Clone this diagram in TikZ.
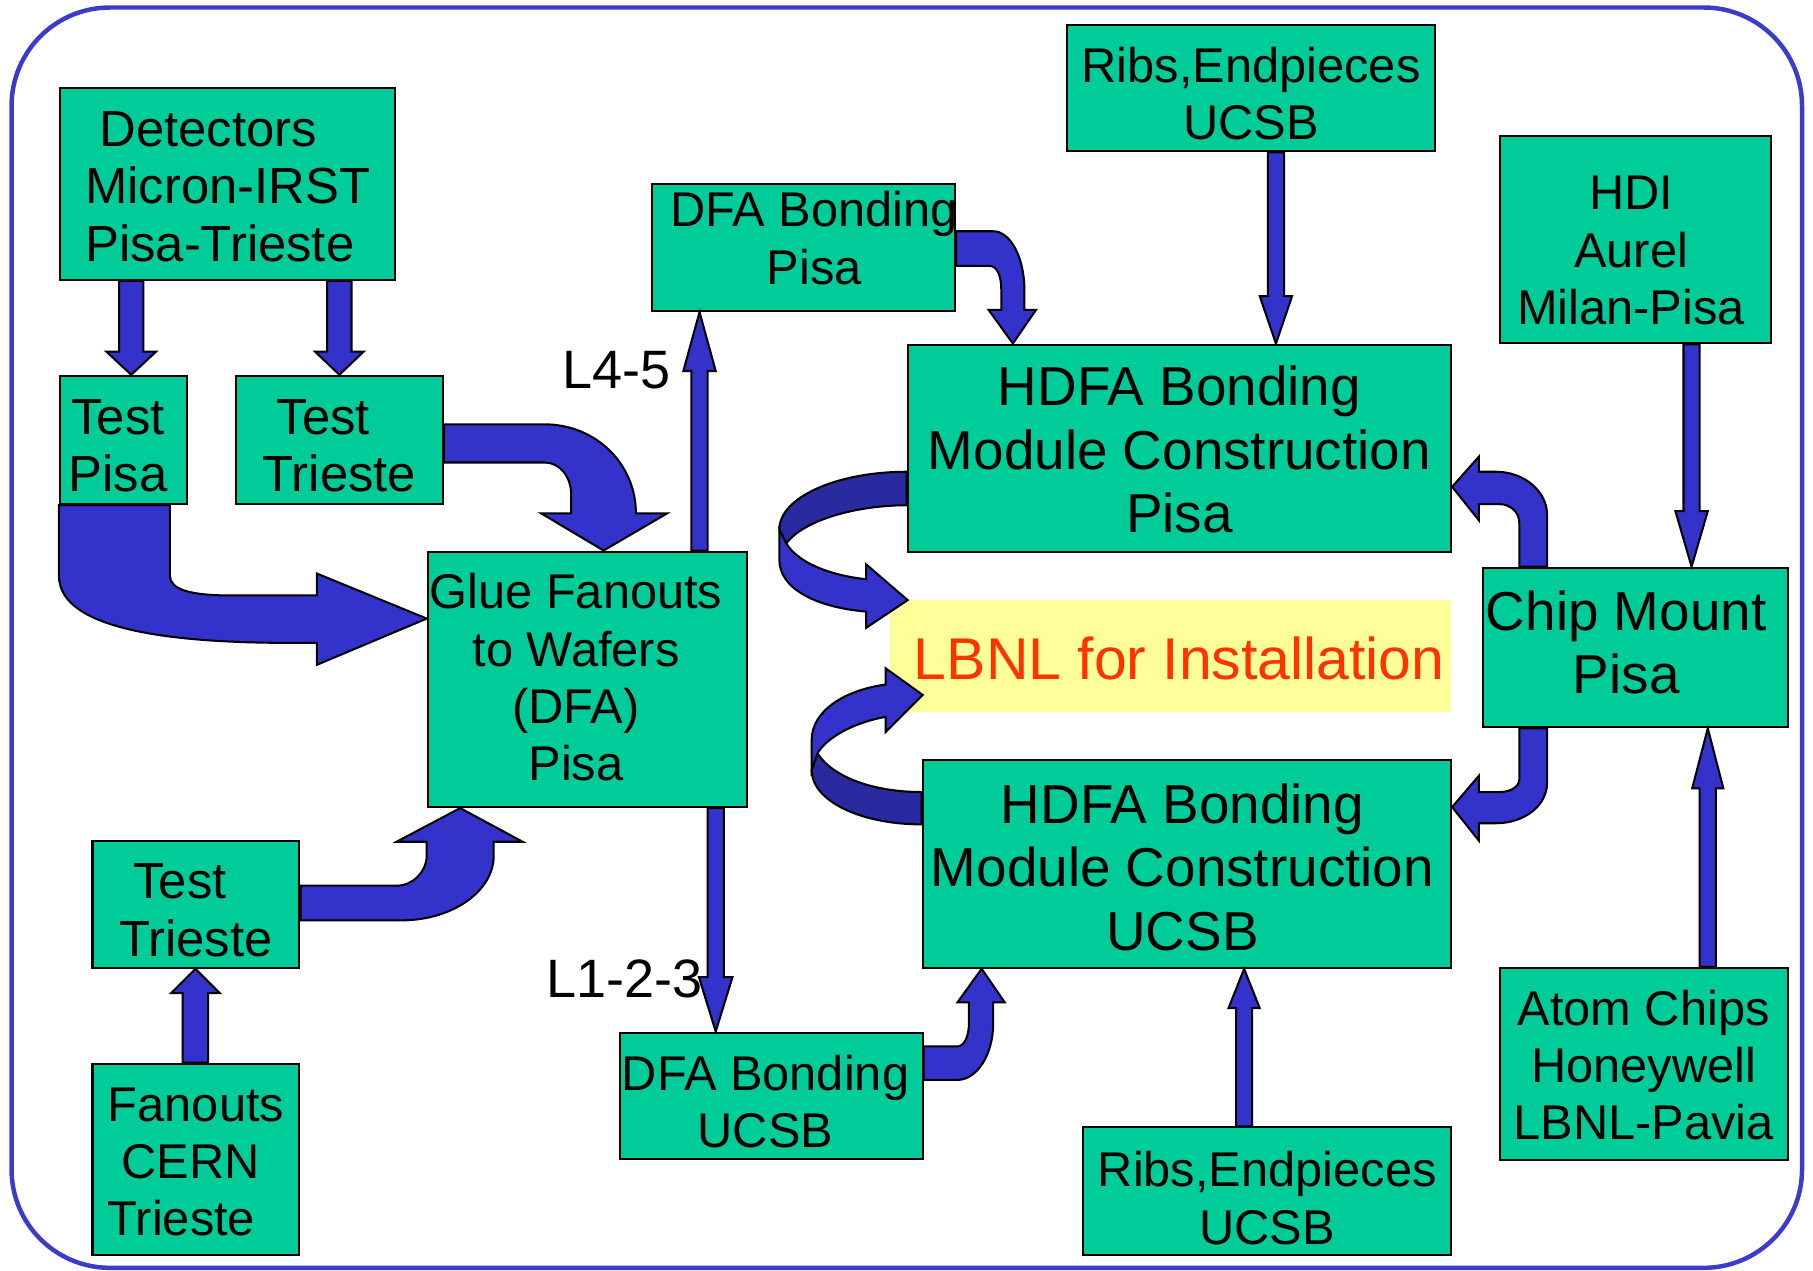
\documentclass[tikz,border=0pt]{standalone}
\usepackage{fontspec}
\setmainfont{Liberation Sans}
\usetikzlibrary{calc,positioning}
\definecolor{boxgreen}{RGB}{0,204,153}
\definecolor{arrowblue}{RGB}{51,51,204}
\definecolor{ribbonblue}{RGB}{42,42,160}
\definecolor{frameblue}{RGB}{60,60,204}
\definecolor{lbnlyellow}{RGB}{255,255,153}
\definecolor{lbnlred}{RGB}{255,51,0}
\newcommand{\boxtxt}{\fontsize{12}{14.1}\selectfont}
\newcommand{\testtxt}{\fontsize{12.5}{14.1}\selectfont}
\newcommand{\bigtxt}{\fontsize{13.5}{15.6}\selectfont}
\newcommand{\lbnltxt}{\fontsize{14.5}{15.6}\selectfont}
\newcommand{\lbltxt}{\fontsize{13.3}{15}\selectfont}
% text block of a box: [column], x nudge, y nudge, lines
\newcommand{\boxtext}[4][c]{\raisebox{#3}[\height][\depth]{\hspace*{#2}\begin{tabular}{@{}#1@{}}#4\end{tabular}\hspace*{-#2}}}
\tikzset{x=0.1mm, y=-0.1mm, % one unit per pixel of the slide, y pointing down
box/.style={draw=black, line width=0.5pt, fill=boxgreen, inner sep=0pt, font=\boxtxt}, % the green boxes
testbox/.style={box, font=\testtxt}, % detector and test boxes
bigbox/.style={box, font=\bigtxt}, % boxes with the larger text
blockarrow/.style={draw=black, line width=0.5pt, fill=arrowblue, line join=miter}, % filled block arrows
ribbonback/.style={blockarrow, fill=ribbonblue}, % back face of the curled arrows
lbl/.style={inner sep=0pt, font=\lbltxt}, % layer labels
slideframe/.style={draw=frameblue, line width=1.1pt, rounded corners=8.5mm}, % rounded frame round the slide
}
% straight block arrow: x, start, apex, half shaft, half head, head length (signed)
\newcommand{\vblockarrow}[6]{%
\filldraw[blockarrow] (#1-#4,0 |- #2) -- ($(#1-#4,0 |- #3)+(0,#6)$)
 -- ($(#1-#5,0 |- #3)+(0,#6)$) -- (#1,0 |- #3) -- ($(#1+#5,0 |- #3)+(0,#6)$)
 -- ($(#1+#4,0 |- #3)+(0,#6)$) -- (#1+#4,0 |- #2) -- cycle;}

\begin{document}
\begin{tikzpicture}
\useasboundingbox (0,0) rectangle (1568,1099);
\draw[slideframe] (10,6.5) rectangle (1558.5,1096.5);

\node[testbox, minimum width=29mm, minimum height=16.6mm] (det) at (197,159) {\boxtext[l]{0pt}{-2.1pt}{\ Detectors\\Micron-IRST\\Pisa-Trieste}};
\node[testbox, minimum width=11mm, minimum height=11.1mm] (testpisa) at (107,380.5) {\boxtext{-1.4pt}{-2.9pt}{Test\\Pisa}};
\node[testbox, minimum width=17.9mm, minimum height=11.1mm] (testtri) at (293.5,380.5) {\boxtext[l]{0pt}{-2.9pt}{\ Test\\Trieste}};
\node[box, minimum width=27.6mm, minimum height=22.1mm] (glue) at (508,587.5) {\boxtext{-2.8pt}{-1pt}{Glue Fanouts\\to Wafers\\(DFA)\\Pisa}};
\node[testbox, minimum width=17.9mm, minimum height=11mm] (testtrib) at (169.5,782) {\boxtext[l]{0pt}{-2.9pt}{\ Test\\Trieste}};
\node[box, minimum width=17.9mm, minimum height=16.5mm] (fanouts) at (169.5,1002.5) {\boxtext[l]{0pt}{-1.9pt}{Fanouts\\\ CERN\\Trieste}};
\node[box, minimum width=26.2mm, minimum height=11mm] (dfapisa) at (695,214) {\boxtext{2.6pt}{0.8pt}{DFA Bonding\\Pisa}};
\node[box, minimum width=26.2mm, minimum height=10.9mm] (dfaucsb) at (667,947.5) {\boxtext{-1.4pt}{-3pt}{DFA Bonding\\UCSB}};
\node[box, minimum width=31.8mm, minimum height=10.9mm] (ribsa) at (1082,76.5) {\boxtext{0pt}{-2.7pt}{Ribs,Endpieces\\UCSB}};
\node[bigbox, minimum width=47mm, minimum height=17.9mm] (hdfapisa) at (1020,387.5) {\boxtext{0pt}{-2.1pt}{HDFA Bonding\\Module Construction\\Pisa}};
\node[box, minimum width=23.5mm, minimum height=17.9mm] (hdi) at (1414.5,207.5) {\boxtext{-1.1pt}{-3.9pt}{HDI\\Aurel\\Milan-Pisa}};
\node[bigbox, minimum width=26.3mm, minimum height=13.8mm] (chip) at (1414.5,560) {\boxtext{-2.3pt}{-0.4pt}{Chip Mount\\Pisa}};
\node[bigbox, font=\lbnltxt, draw=none, fill=lbnlyellow, text=lbnlred, minimum width=48.5mm, minimum height=9.7mm] (lbnl) at (1012.5,567.5) {\boxtext{2.1pt}{-2.5pt}{LBNL for Installation}};
\node[bigbox, minimum width=45.7mm, minimum height=18mm] (hdfaucsb) at (1026.5,747) {\boxtext{-1.1pt}{-2.6pt}{HDFA Bonding\\Module Construction\\UCSB}};
\node[box, minimum width=31.8mm, minimum height=11mm] (ribsb) at (1096,1030) {\boxtext{0pt}{-3.2pt}{Ribs,Endpieces\\UCSB}};
\node[box, minimum width=24.9mm, minimum height=16.6mm] (atom) at (1421.5,920) {\boxtext{0pt}{-1.8pt}{Atom Chips\\Honeywell\\LBNL-Pavia}};

% straight arrows
\vblockarrow{113.5}{det.south}{testpisa.north}{10.5}{21.5}{-20}
\vblockarrow{293.5}{det.south}{testtri.north}{10.5}{21}{-20}
\vblockarrow{169}{fanouts.north}{testtrib.south}{11}{21}{21}
\vblockarrow{605}{glue.north}{dfapisa.south}{7}{14}{51}
\vblockarrow{619}{glue.south}{dfaucsb.north}{7}{14.5}{-47}
\vblockarrow{1103.5}{ribsa.south}{hdfapisa.north}{7}{14}{-41}
\vblockarrow{1463}{hdi.south}{chip.north}{7}{14}{-48}
\vblockarrow{1477}{atom.north}{chip.south}{7}{13.5}{52}
\vblockarrow{1076}{ribsb.north}{hdfaucsb.south}{7}{13.5}{34}

% bent arrows
\filldraw[blockarrow] (51,0 |- testpisa.south) -- (51,498) .. controls (51,540) and (130,556) .. (250,556) -- (274,556) -- (274,575)
 -- (glue.west |- 0,535) -- (274,496) -- (274,515) -- (200,515) .. controls (165,515) and (147,510) .. (147,498) -- (147,0 |- testpisa.south) -- cycle;
\filldraw[blockarrow] (testtri.east |- 0,367) -- (471,367) .. controls (515,367) and (550,401) .. (550,444) -- (577,444)
 -- (522,0 |- glue.north) -- (468,444) -- (494,444) -- (494,428) .. controls (494,412) and (484,400) .. (471,400) -- (testtri.east |- 0,400) -- cycle;
\filldraw[blockarrow] (testtrib.east |- 0,766) -- (343,766) .. controls (357,766) and (369,754) .. (369,740) -- (369,728) -- (343,728)
 -- (398,0 |- glue.south) -- (452,728) -- (427,728) -- (427,740) .. controls (427,771) and (391,796) .. (347,796) -- (testtrib.east |- 0,796) -- cycle;
\filldraw[blockarrow] (dfapisa.east |- 0,200) -- (859,200) .. controls (874,200) and (886,223) .. (886,251) -- (886,268) -- (896,268)
 -- (876,0 |- hdfapisa.north) -- (855,268) -- (866,268) -- (866,251) .. controls (866,238) and (862,230) .. (856,230) -- (dfapisa.east |- 0,230) -- cycle;
\filldraw[blockarrow] (dfaucsb.east |- 0,905) -- (828,905) .. controls (834,905) and (838,896) .. (838,885) -- (838,867) -- (828,867)
 -- (849,0 |- hdfaucsb.south) -- (869,867) -- (859,867) -- (859,885) .. controls (859,912) and (845,934) .. (828,934) -- (dfaucsb.east |- 0,934) -- cycle;
\filldraw[blockarrow] (1314,0 |- chip.north) -- (1314,452) .. controls (1314,443) and (1306,436) .. (1297,436) -- (1279,436) -- (1279,450)
 -- (hdfapisa.east |- 0,421) -- (1279,395) -- (1279,408) -- (1294,408) .. controls (1318,408) and (1338,425) .. (1338,445) -- (1338,0 |- chip.north) -- cycle;
\filldraw[blockarrow] (1314,0 |- chip.south) -- (1314,674) .. controls (1314,680) and (1307,685) .. (1297,685) -- (1279,685) -- (1279,671)
 -- (hdfaucsb.east |- 0,698) -- (1279,727) -- (1279,712) -- (1294,712) .. controls (1318,712) and (1338,697) .. (1338,677) -- (1338,0 |- chip.south) -- cycle;

% curled arrows to LBNL
\filldraw[ribbonback] (hdfapisa.west |- 0,408) .. controls (724,408) and (674,430) .. (674,458) -- (680,470)
 .. controls (695,450) and (740,437) .. (hdfapisa.west |- 0,437) -- cycle;
\filldraw[blockarrow] (674,458) -- (674,484) .. controls (674,509) and (705,525) .. (749,529) -- (749,543) -- (785,519)
 -- (749,488) -- (749,501) .. controls (715,497) and (690,486) .. (680,470) -- cycle;
\filldraw[ribbonback] (hdfaucsb.west |- 0,713) .. controls (745,713) and (702,693) .. (702,666) -- (707,651.5)
 .. controls (720,672) and (755,685) .. (hdfaucsb.west |- 0,685) -- cycle;
\filldraw[blockarrow] (702,666) -- (702,640) .. controls (702,615) and (730,597) .. (766,592) -- (766,578) -- (798,601)
 -- (766,633) -- (766,620) .. controls (738,625) and (715,638) .. (707,651.5) -- cycle;

\node[lbl] (upper) at (533,320) {L4-5};
\node[lbl] (lower) at (540,847) {L1-2-3};
\end{tikzpicture}
\end{document}
